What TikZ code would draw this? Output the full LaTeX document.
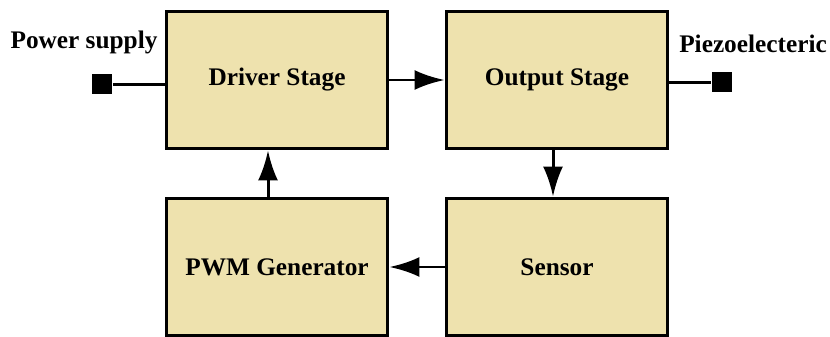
\documentclass[tikz,border=0pt]{standalone}
\usepackage{fontspec}
\setmainfont{Liberation Serif}
\usetikzlibrary{arrows.meta}
\definecolor{stagefill}{RGB}{238,226,174}
\begin{document}
\begin{tikzpicture}[x=0.02cm, y=-0.02cm, line width=1.7pt,
  stage node/.style={rectangle,draw,fill=stagefill,minimum width=4.44cm,minimum height=2.76cm,inner sep=0pt},
  port node/.style={rectangle,fill=black,minimum size=0.4cm,inner sep=0pt},
  label node/.style={inner sep=0pt},
  wire/.style={draw=black,line width=1.7pt}]
\useasboundingbox (0,0) rectangle (830,337);
\begin{scope}[every node/.style={font=\fontsize{14.4}{16}\selectfont\bfseries}]
\node[stage node] (drv) at (277,80) {Driver Stage};%top left
\node[stage node] (out) at (557,80) {Output Stage};%top right
\node[stage node] (pwm) at (277,267) {PWM Generator};%bottom left
\node[stage node] (sen) at (557,267) {Sensor};%bottom right
\node[port node] (pwr) at (102,84.5) {};
\node[port node] (pzt) at (722,82.5) {};
\node[label node] (pwrlab) at (84,42) {Power supply};
\node[label node] (pztlab) at (753,44) {Piezoelecteric};
\end{scope}
\begin{scope}[every edge/.style={wire,-{Latex[length=0.6cm,width=0.4cm]}}]
\draw (drv) edge node{} (out);
\draw ([xshift=-0.08cm]out.south) edge node{} ([xshift=-0.08cm]sen.north);
\draw (sen) edge node{} (pwm);
\draw ([xshift=-0.18cm]pwm.north) edge node{} ([xshift=-0.18cm]drv.south);
\end{scope}
% terminals
\draw[wire] (pwr.east) -- (pwr -| drv.west);
\draw[wire] (pzt.west) -- (pzt -| out.east);
\end{tikzpicture}
\end{document}
